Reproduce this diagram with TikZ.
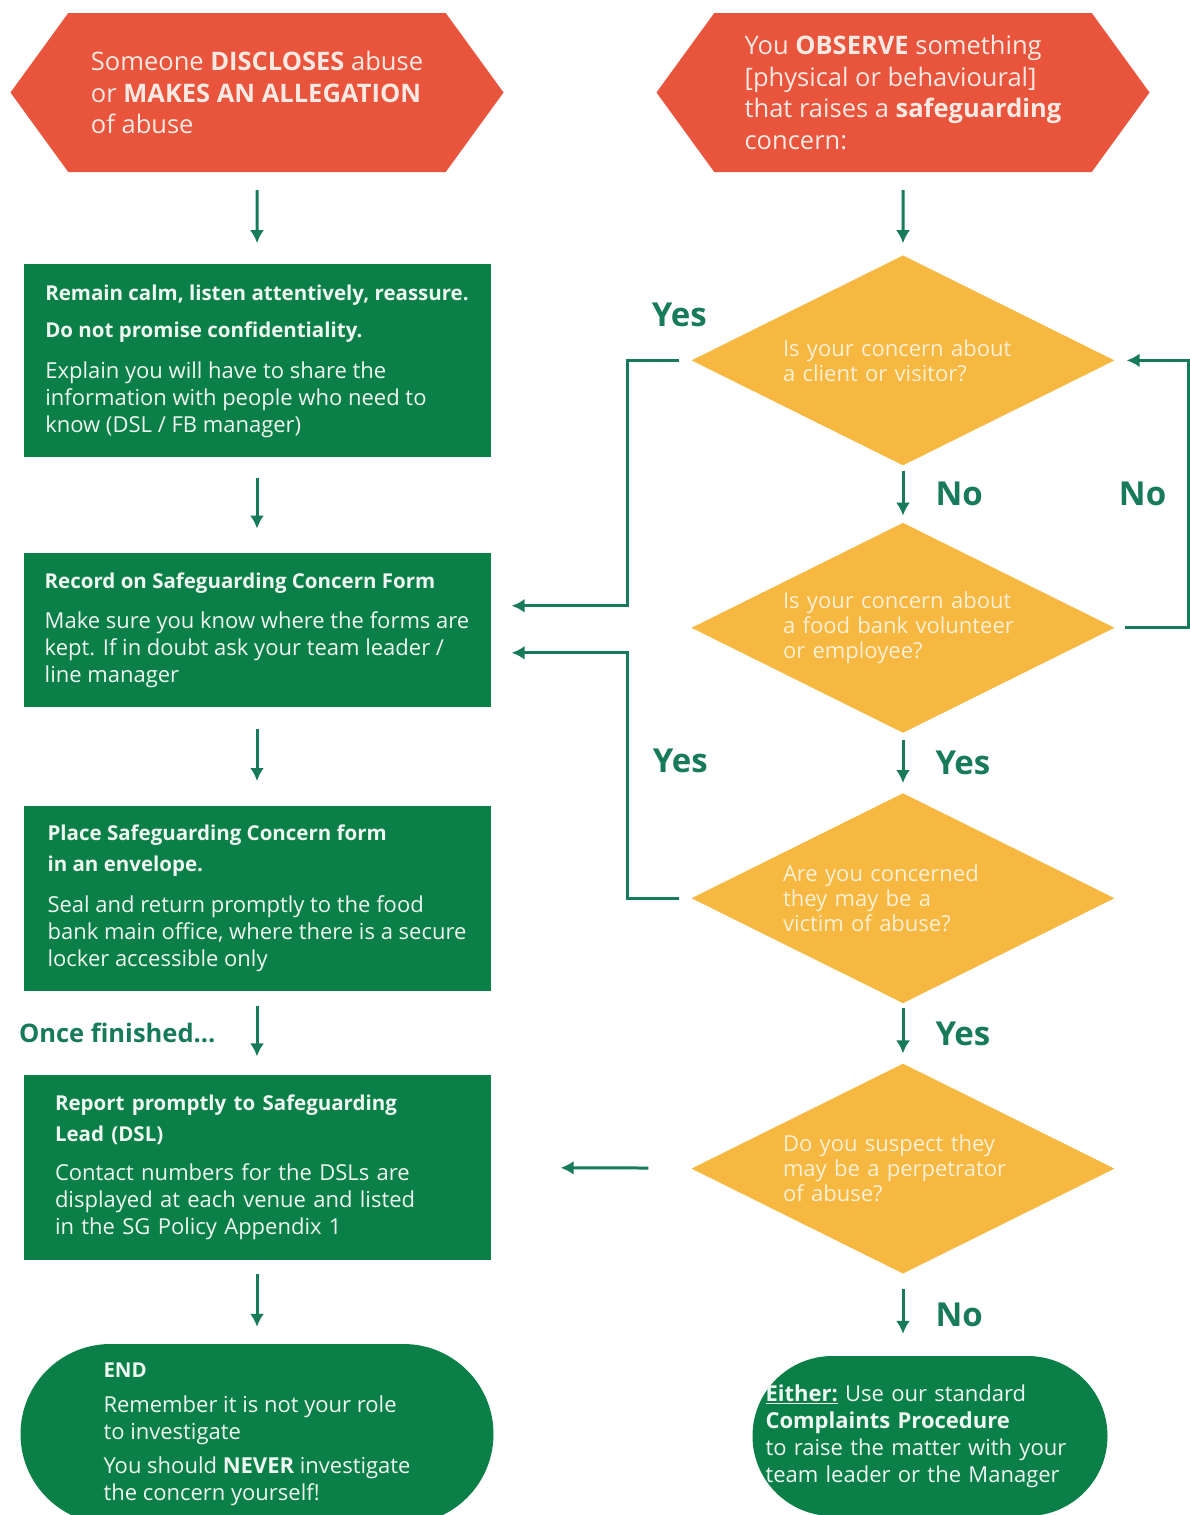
\documentclass[tikz,border=0pt]{standalone}
\usepackage{fontspec}
\setmainfont{Open Sans}
\usetikzlibrary{arrows.meta,positioning,shapes.geometric,shapes.symbols}
\definecolor{alertRed}{HTML}{E8543C}
\definecolor{stepGreen}{HTML}{0B7F48}
\definecolor{lineGreen}{HTML}{177A5B}
\definecolor{askAmber}{HTML}{F6B840}
\definecolor{paleText}{HTML}{EEF7F1}
\definecolor{creamText}{HTML}{FDF0D6}
\definecolor{pinkText}{HTML}{FCE9E3}
\newcommand{\hd}[1]{{\fontsize{20.5}{27}\selectfont\bfseries #1}}

\begin{document}
\begin{tikzpicture}[
      x=1pt, y=-1pt,
      hexa/.style={signal, signal to=east and west, signal pointer angle=108,
                   fill=alertRed, text=pinkText, align=left, inner sep=0pt,
                   minimum width=493pt, minimum height=159pt,
                   font=\fontsize{25.5}{31.5}\selectfont},
      box/.style={rectangle, fill=stepGreen, text=paleText, align=left,
                  minimum width=467pt, font=\fontsize{22}{27}\selectfont},
      ask/.style={diamond, aspect=2, fill=askAmber, text=creamText, align=left,
                  inner sep=0pt, text width=240pt, minimum width=423pt,
                  minimum height=210pt, font=\fontsize{22}{25}\selectfont},
      pill/.style={rectangle, fill=stepGreen, text=paleText, align=left,
                   font=\fontsize{22}{27}\selectfont},
      lbl/.style={text=lineGreen, inner sep=0pt, font=\fontsize{33}{40}\selectfont\bfseries},
      note/.style={text=lineGreen, inner sep=0pt, font=\fontsize{25.5}{30}\selectfont\bfseries},
      link/.style={->, draw=lineGreen, line width=3pt},
      >={Latex[width=14pt,length=13pt]}
    ]
    \useasboundingbox (0,0) rectangle (1189,1515);

    \node[hexa] (disc) at (257,92.5) {Someone \textbf{DISCLOSES} abuse\\or \textbf{MAKES AN ALLEGATION}\\of abuse};
    \node[hexa] (obs) at (903,92.5) {You \textbf{OBSERVE} something\\{}[physical or behavioural]\\that raises a \textbf{safeguarding}\\concern:};

    \node[box, minimum height=193pt, below=92pt of disc] (calm) {\hd{Remain calm, listen attentively, reassure.}\\[10pt]\hd{Do not promise confidentiality.}\\[14pt]Explain you will have to share the\\information with people who need to\\know (DSL / FB manager)};
    \node[box, minimum height=154pt, below=95pt of calm] (rec) {\hd{Record on Safeguarding Concern Form}\\[13pt]Make sure you know where the forms are\\kept. If in doubt ask your team leader /\\line manager};
    \node[box, minimum height=185pt, below=99pt of rec] (env) {\hd{Place Safeguarding Concern form}\\[4pt]\hd{in an envelope.}\\[14pt]Seal and return promptly to the food\\bank main office, where there is a secure\\locker accessible only};
    \node[box, minimum height=185pt, text width=404pt, below=83pt of env] (rep) {\hd{Report promptly to Safeguarding}\\[4pt]\hd{Lead (DSL)}\\[12pt]Contact numbers for the DSLs are\\displayed at each venue and listed\\in the SG Policy Appendix 1};
    \node[pill, minimum width=473pt, minimum height=180pt, rounded corners=90pt, below=84pt of rep] (fin) {\hd{END}\\[8pt]Remember it is not your role\\to investigate\\[7pt]You should \textbf{NEVER} investigate\\the concern yourself!};

    \node[ask, below=83pt of obs] (q1) {Is your concern about\\a client or visitor?};
    \node[ask, below=57pt of q1] (q2) {Is your concern about\\a food bank volunteer\\or employee?};
    \node[ask, below=60pt of q2] (q3) {Are you concerned\\they may be a\\victim of abuse?};
    \node[ask, below=60pt of q3] (q4) {Do you suspect they\\may be a perpetrator\\of abuse?};
    \node[pill, minimum width=355pt, minimum height=160pt, rounded corners=80pt, text width=329pt, below=82pt of q4, xshift=27pt] (compl) {\underline{\textbf{Either:}} Use our standard\\\textbf{Complaints Procedure}\\to raise the matter with your\\team leader or the Manager};

    \draw[link, shorten <=18pt, shorten >=21pt] (disc) -- (calm);
    \draw[link, shorten <=20pt, shorten >=24pt] (calm) -- (rec);
    \draw[link, shorten <=22pt, shorten >=25pt] (rec) -- (env);
    \draw[link, shorten <=15pt, shorten >=18pt] (env) -- node[note, left=40pt] {Once finished...} (rep);
    \draw[link, shorten <=14pt, shorten >=17pt] (rep) -- (fin);

    \draw[link, shorten <=18pt, shorten >=12pt] (obs) -- (q1);
    \draw[link, shorten <=5pt, shorten >=7pt] (q1) -- node[lbl, right=31pt] {No} (q2);
    \draw[link, shorten <=7pt, shorten >=10pt] (q2) -- node[lbl, right=31pt] {Yes} (q3);
    \draw[link, shorten <=5pt, shorten >=10pt] (q3) -- node[lbl, right=31pt] {Yes} (q4);
    \draw[link, shorten <=15pt, shorten >=22pt] (q4) -- node[lbl, right=31pt] {No} (q4 |- compl.north);

    \draw[link] ([xshift=-12pt]q1.west) node[lbl, above=32pt] {Yes} -- ++(-52,0) |- ([xshift=21pt, yshift=24pt]rec.east);
    \draw[link] ([xshift=-12pt]q3.west) -- ++(-52,0) |- node[lbl, pos=0.28, right=24pt] {Yes} ([xshift=21pt, yshift=-23pt]rec.east);
    \draw[link] ([xshift=10pt]q2.east) -- ++(64,0) |- node[lbl, pos=0.25, left=21pt] {No} ([xshift=12pt]q1.east);
    \draw[link, shorten <=44pt, shorten >=70pt] (q4) -- (rep);
  \end{tikzpicture}
\end{document}
